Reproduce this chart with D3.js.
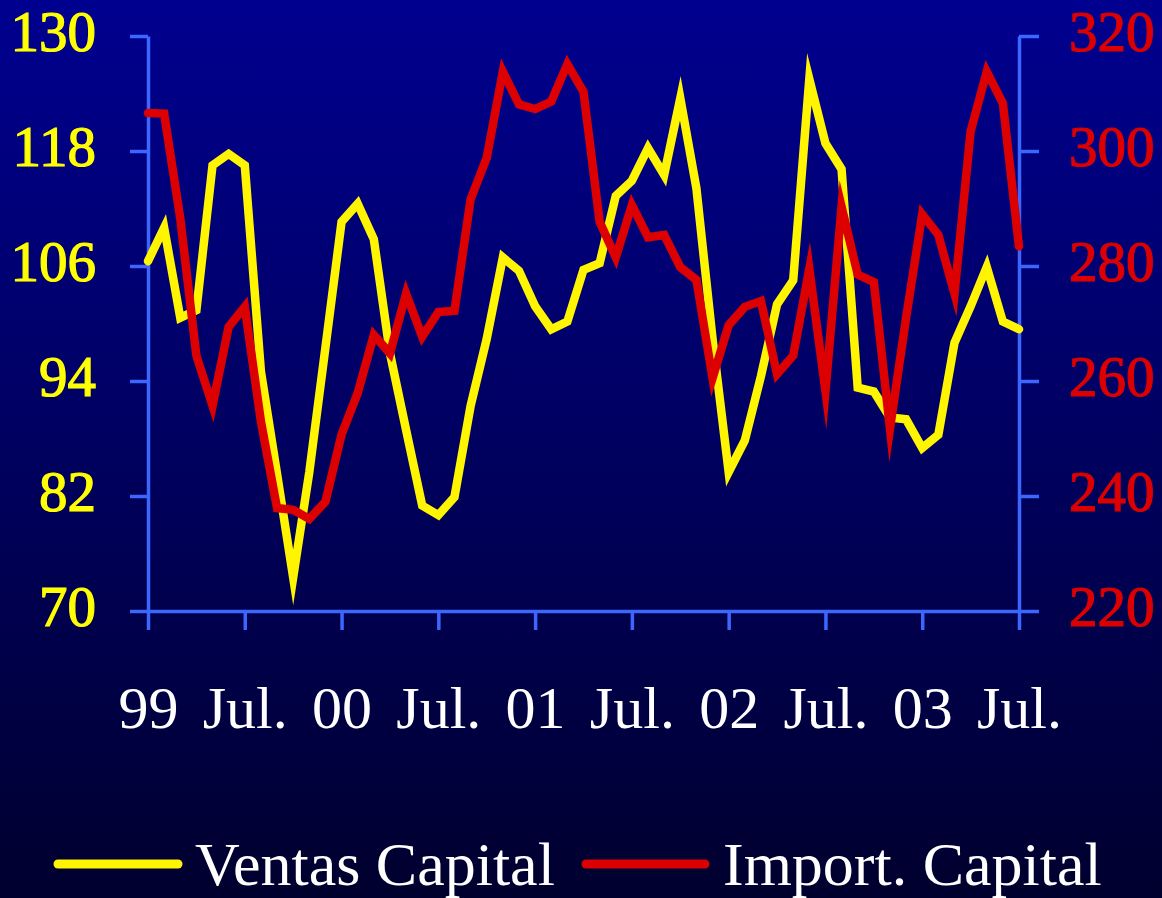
<!DOCTYPE html>
<html>
<head>
<meta charset="utf-8">
<script src="https://cdn.jsdelivr.net/npm/d3@7"></script>
<style>
  html, body { margin: 0; padding: 0; background: #000040; }
  svg { display: block; }
</style>
</head>
<body>
<svg id="chart" width="1162" height="898"></svg>
<script>
// Monthly series, January 1999 to July 2003
const ventasCapital = [
  106.5, 110.0, 100.6, 101.4, 116.5, 117.7, 116.5, 95.0, 84.3, 73.5,
  84.5, 97.5, 110.6, 112.5, 108.8, 96.9, 88.9, 81.0, 80.0, 81.9,
  91.4, 98.4, 106.9, 105.5, 101.8, 99.4, 100.2, 105.6, 106.3, 113.3,
  114.9, 118.3, 115.5, 123.5, 114.1, 98.4, 84.5, 87.8, 94.5, 102.0,
  104.5, 125.5, 118.8, 116.1, 93.3, 92.9, 90.2, 90.0, 87.0, 88.4,
  98.0, 101.8, 105.9, 100.2, 99.4
];
const importCapital = [
  306.6, 306.5, 288.3, 264.4, 255.7, 269.4, 272.9, 253.0, 237.9, 237.6,
  236.0, 239.0, 250.7, 257.9, 268.0, 264.8, 275.2, 267.7, 272.0, 272.2,
  291.6, 298.8, 313.8, 308.1, 307.3, 308.6, 315.1, 310.3, 287.7, 281.5,
  290.6, 285.0, 285.4, 279.8, 277.6, 260.5, 269.7, 272.9, 273.9, 261.2,
  264.4, 279.5, 258.3, 290.3, 278.5, 277.2, 251.7, 271.0, 289.0, 285.4,
  275.2, 303.4, 313.8, 308.3, 283.4
];
const xTickMonths = [0, 6, 12, 18, 24, 30, 36, 42, 48, 54];
const xTickLabels = ["99", "Jul.", "00", "Jul.", "01", "Jul.", "02", "Jul.", "03", "Jul."];
const leftTicks = [70, 82, 94, 106, 118, 130];
const rightTicks = [220, 240, 260, 280, 300, 320];
const seriesNames = ["Ventas Capital", "Import. Capital"];

const W = 1162, H = 898;
const FONT = "'Liberation Serif', 'Times New Roman', serif";
const AXIS_COLOR = "#3d66ff";
const YELLOW = "#fff500";
const RED = "#dd0000";

const svg = d3.select("#chart");

// background: vertical navy gradient
const grad = svg.append("defs").append("linearGradient")
  .attr("id", "bg").attr("x1", 0).attr("y1", 0).attr("x2", 0).attr("y2", 1);
grad.append("stop").attr("offset", "0%").attr("stop-color", "#000090");
grad.append("stop").attr("offset", "100%").attr("stop-color", "#00002e");
svg.append("rect").attr("width", W).attr("height", H).attr("fill", "url(#bg)");

const x = d3.scaleLinear().domain([0, ventasCapital.length - 1]).range([148, 1019]);
const yL = d3.scaleLinear().domain([70, 130]).range([611, 36]);
const yR = d3.scaleLinear().domain([220, 320]).range([611, 36]);

function styleAxis(g) {
  g.selectAll(".domain, .tick line")
    .attr("stroke", AXIS_COLOR).attr("stroke-width", 3.5);
  g.selectAll("text").attr("font-family", FONT);
}

// left axis (heavier digits)
svg.append("g")
  .attr("transform", "translate(148,0)")
  .call(d3.axisLeft(yL).tickValues(leftTicks).tickSize(18).tickSizeOuter(0).tickPadding(34))
  .call(styleAxis)
  .call(g => g.selectAll("text").attr("fill", "#ffff00").attr("font-size", 57).attr("dy", "0.25em")
    .attr("stroke", "#ffff00").attr("stroke-width", 1.2));

// right axis
svg.append("g")
  .attr("transform", "translate(1019,0)")
  .call(d3.axisRight(yR).tickValues(rightTicks).tickSize(20).tickSizeOuter(0).tickPadding(30))
  .call(styleAxis)
  .call(g => g.selectAll("text").attr("fill", RED).attr("font-size", 57).attr("dy", "0.25em")
    .attr("stroke", RED).attr("stroke-width", 1.2));

// bottom axis
svg.append("g")
  .attr("transform", "translate(0,611)")
  .call(d3.axisBottom(x).tickValues(xTickMonths).tickFormat((d, i) => xTickLabels[i])
    .tickSize(19).tickSizeOuter(0))
  .call(styleAxis)
  .call(g => g.selectAll("text").attr("fill", "#ffffff").attr("font-size", 60)
    .attr("y", 117).attr("dy", 0));

svg.selectAll("g").attr("fill", null);

// series lines
const lineL = d3.line().x((d, i) => x(i)).y(d => yL(d));
const lineR = d3.line().x((d, i) => x(i)).y(d => yR(d));

svg.append("path").datum(ventasCapital)
  .attr("d", lineL).attr("fill", "none").attr("stroke", YELLOW)
  .attr("stroke-width", 8.5).attr("stroke-linejoin", "miter")
  .attr("stroke-miterlimit", 12).attr("stroke-linecap", "round");

svg.append("path").datum(importCapital)
  .attr("d", lineR).attr("fill", "none").attr("stroke", RED)
  .attr("stroke-width", 8.5).attr("stroke-linejoin", "miter")
  .attr("stroke-miterlimit", 12).attr("stroke-linecap", "round");

// legend
const legendItems = [
  { name: seriesNames[0], color: YELLOW, x1: 58, x2: 178, tx: 195 },
  { name: seriesNames[1], color: RED, x1: 586, x2: 705, tx: 723 }
];
const legend = svg.append("g");
legendItems.forEach(it => {
  legend.append("line")
    .attr("x1", it.x1).attr("x2", it.x2).attr("y1", 864).attr("y2", 864)
    .attr("stroke", it.color).attr("stroke-width", 9).attr("stroke-linecap", "round");
  legend.append("text")
    .attr("x", it.tx).attr("y", 885)
    .attr("font-family", FONT).attr("font-size", 62)
    .attr("fill", "#ffffff").text(it.name);
});
</script>
</body>
</html>
